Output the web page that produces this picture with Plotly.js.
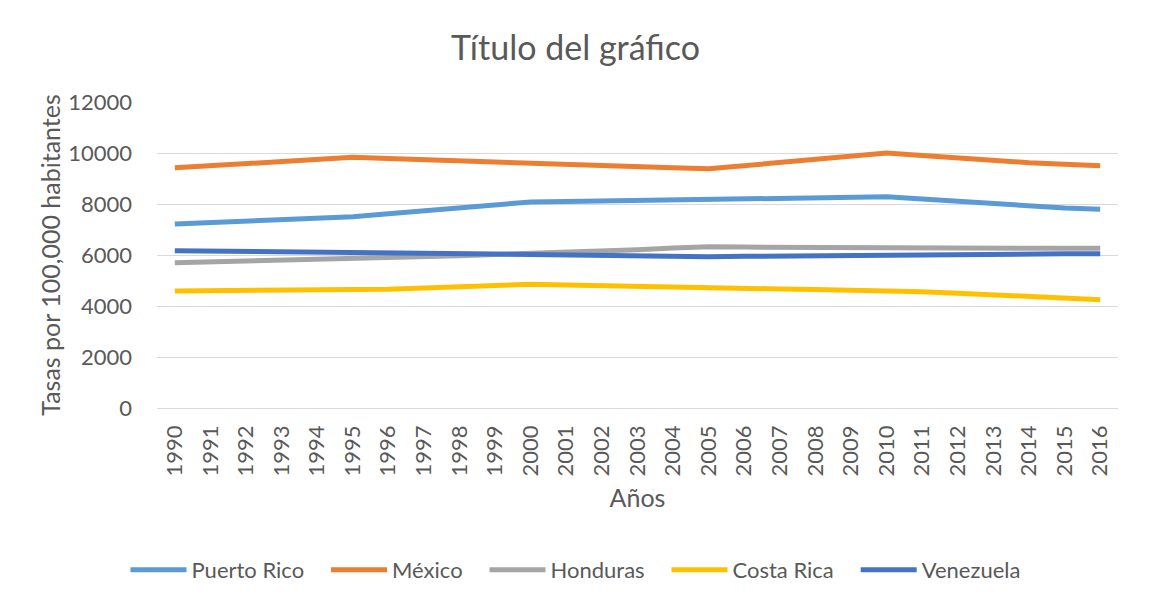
<!DOCTYPE html>
<html>
<head>
<meta charset="utf-8">
<script src="https://cdn.plot.ly/plotly-3.0.1.min.js"></script>
<style>html,body{margin:0;padding:0;background:#fff;}#chart{width:1151px;height:608px;}</style>
</head>
<body>
<div id="chart"></div>
<script>
const years = ["1990","1991","1992","1993","1994","1995","1996","1997","1998","1999","2000","2001","2002","2003","2004","2005","2006","2007","2008","2009","2010","2011","2012","2013","2014","2015","2016"];
const puertoRico = [7220,7270,7330,7390,7450,7500,7620,7740,7860,7970,8080,8100,8120,8140,8160,8180,8200,8220,8240,8260,8280,8200,8100,8000,7900,7840,7790];
const mexico = [9420,9500,9580,9660,9740,9830,9780,9730,9680,9640,9590,9540,9500,9460,9420,9380,9500,9620,9750,9880,10000,9900,9800,9700,9620,9560,9500];
const honduras = [5700,5730,5760,5790,5810,5840,5880,5930,5970,6020,6060,6110,6160,6210,6270,6320,6310,6300,6290,6280,6270,6270,6270,6265,6265,6262,6262];
const costaRica = [4590,4595,4600,4605,4610,4615,4660,4710,4760,4810,4850,4820,4790,4750,4720,4690,4680,4670,4650,4630,4615,4560,4500,4440,4370,4310,4250];
const venezuela = [6170,6160,6150,6140,6130,6120,6100,6080,6060,6040,6020,6000,5985,5970,5950,5935,5950,5965,5980,5990,6000,6010,6020,6030,6040,6045,6052];
const seriesNames = ["Puerto Rico","México","Honduras","Costa Rica","Venezuela"];
const seriesValues = [puertoRico, mexico, honduras, costaRica, venezuela];
const colors = ["#5B9BD5","#ED7D31","#A5A5A5","#FFC000","#4472C4"];

const pad = "\u00a0\u00a0\u00a0";
const traces = seriesNames.map((n,i)=>({
  type:"scatter", mode:"lines", name: i < seriesNames.length-1 ? n + pad : n, x:years, y:seriesValues[i],
  line:{color:colors[i], width:5, shape:"linear"}
}));

const font = "Lato, 'Open Sans', sans-serif";
const layout = {
  width:1151, height:608,
  margin:{l:157, r:33, t:102, b:200},
  paper_bgcolor:"#fff", plot_bgcolor:"#fff",
  font:{family:font, color:"#595959", size:22},
  title:{text:"Título del gráfico", font:{size:34, color:"#595959", family:font}, x:0.5, xanchor:"center", y:1-48/608, yanchor:"middle"},
  xaxis:{type:"category", range:[-0.5,26.5], tickangle:-90, showgrid:false, showline:false, zeroline:false,
    ticks:"", tickfont:{size:22}, ticklabelstandoff:12,
    title:{text:"Años", font:{size:25}, standoff:14}},
  yaxis:{range:[0,12000], dtick:2000, tickformat:"d", gridcolor:"#D9D9D9", gridwidth:1, zeroline:true, zerolinecolor:"#D9D9D9", zerolinewidth:1,
    showline:false, ticks:"", tickfont:{size:22}, ticklabelstandoff:24,
    title:{text:"Tasas por 100,000 habitantes", font:{size:25}, standoff:0}},
  legend:{orientation:"h", xref:"container", yref:"container", x:0.5, xanchor:"center", y:1-570/608, yanchor:"middle", font:{size:22}, itemwidth:56, traceorder:"normal"},
  showlegend:true
};
Plotly.newPlot("chart", traces, layout, {staticPlot:true, displayModeBar:false});
</script>
</body>
</html>
